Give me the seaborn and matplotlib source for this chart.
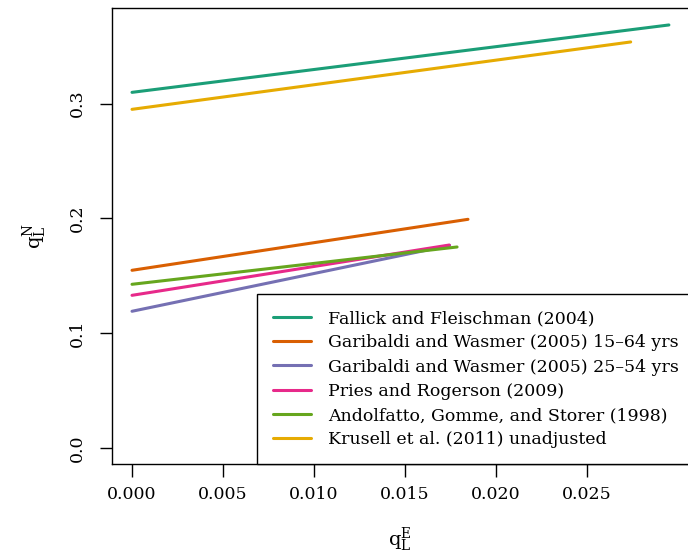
import matplotlib
matplotlib.use("Agg")
import matplotlib.pyplot as plt
import seaborn as sns
import pandas as pd

sns.set_theme(style="white")
plt.rcParams['font.family'] = ['DejaVu Serif']
plt.rcParams['mathtext.fontset'] = 'dejavuserif'
plt.rcParams['text.color'] = 'black'
plt.rcParams['axes.labelcolor'] = 'black'

series = [
    "Fallick and Fleischman (2004)",
    "Garibaldi and Wasmer (2005) 15\u201364 yrs",
    "Garibaldi and Wasmer (2005) 25\u201354 yrs",
    "Pries and Rogerson (2009)",
    "Andolfatto, Gomme, and Storer (1998)",
    "Krusell et al. (2011) unadjusted",
]
x_start = [0.0, 0.0, 0.0, 0.0, 0.0, 0.0]
x_end = [0.0295, 0.01846, 0.01745, 0.01743, 0.01786, 0.0274]
y_start = [0.3098, 0.1548, 0.1191, 0.1330, 0.1426, 0.2950]
y_end = [0.3685, 0.1992, 0.1765, 0.1768, 0.1751, 0.3537]
colors = ["#1B9E77", "#D95F02", "#7570B3", "#E7298A", "#66A61E", "#E6AB02"]
x_ticks = [0.000, 0.005, 0.010, 0.015, 0.020, 0.025]
x_ticklabels = ["0.000", "0.005", "0.010", "0.015", "0.020", "0.025"]
y_ticks = [0.0, 0.1, 0.2, 0.3]
y_ticklabels = ["0.0", "0.1", "0.2", "0.3"]

rows = []
for s, xs, xe, ys, ye in zip(series, x_start, x_end, y_start, y_end):
    rows.append({"series": s, "x": xs, "y": ys})
    rows.append({"series": s, "x": xe, "y": ye})
df = pd.DataFrame(rows)

fig = plt.figure(figsize=(6.88, 5.57), dpi=100)
ax = fig.add_axes([112/688, 1-464/557, 1-112/688, (464-8)/557])

sns.lineplot(data=df, x="x", y="y", hue="series", hue_order=series,
             palette=colors, linewidth=2.2, ax=ax, legend=False, sort=False)

ax.set_xlim(-0.0011, (688-132)/18200)
ax.set_ylim((448-464)/1148, (448-8)/1148)

ax.set_xticks(x_ticks)
ax.set_xticklabels(x_ticklabels)
ax.set_yticks(y_ticks)
ax.set_yticklabels(y_ticklabels, rotation=90, va="center")
ax.tick_params(axis="both", which="both", direction="out", length=9, width=1,
               color="black", labelsize=12.5, labelcolor="black", pad=7,
               bottom=True, left=True)
ax.tick_params(axis="y", pad=10)
for side in ["left", "bottom", "top"]:
    ax.spines[side].set_color("black")
    ax.spines[side].set_linewidth(1)
ax.spines["right"].set_visible(False)

ax.set_xlabel(r"$\mathrm{q}_{\mathrm{L}}^{\mathrm{E}}$", fontsize=14, labelpad=16)
ax.set_ylabel(r"$\mathrm{q}_{\mathrm{L}}^{\mathrm{N}}$", fontsize=14, labelpad=14)

from matplotlib.lines import Line2D
handles = [Line2D([0], [0], color=c, lw=2.2) for c in colors]
leg = ax.legend(handles, series, loc="lower left",
                bbox_to_anchor=((257-112)/576, 0.0, 1.0, 0.37),
                mode="expand", frameon=True, fancybox=False, fontsize=12.5,
                handlelength=2.2, handletextpad=1.0, borderpad=0.9,
                labelspacing=0.42, borderaxespad=0.0)
leg.get_frame().set_edgecolor("black")
leg.get_frame().set_linewidth(1)
leg.get_frame().set_alpha(1)
for t in leg.get_texts():
    t.set_color("black")

fig.savefig("out.png", dpi=100)
